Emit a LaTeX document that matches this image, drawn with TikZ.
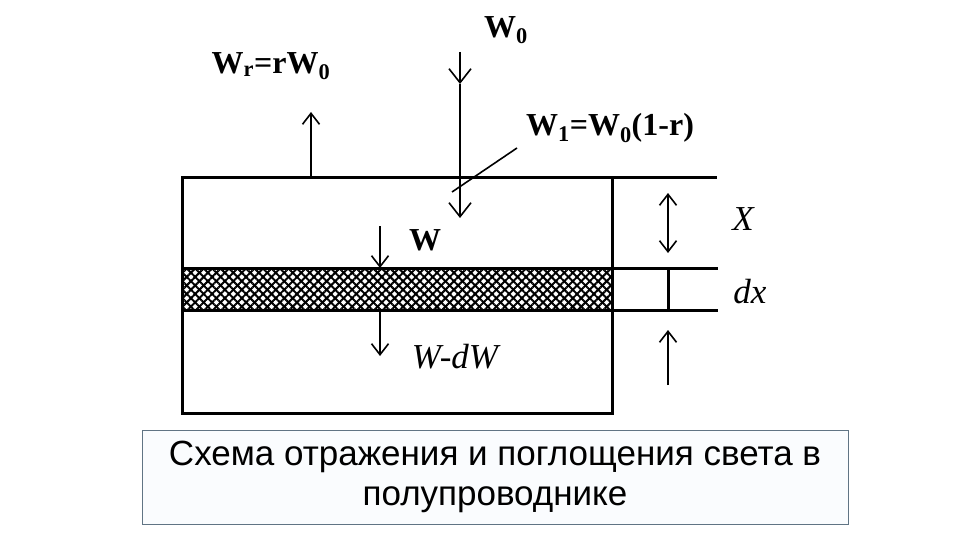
\documentclass[tikz,border=0pt]{standalone}
\usepackage{fontspec}
\setmainfont{Liberation Serif}
\newfontfamily\capfont{Liberation Sans}
\usetikzlibrary{arrows.meta,patterns.meta,positioning}

\definecolor{capborder}{RGB}{96,116,132}
\definecolor{capfill}{RGB}{250,252,254}

\tikzset{
  wall/.style={line width=3pt},
  flux/.style={line width=1.6pt,-{Straight Barb[length=11pt,width=17pt,line width=1.6pt]}},
  bigflux/.style={line width=1.6pt,-{Straight Barb[length=14pt,width=22pt,line width=1.6pt]}},
  fluxboth/.style={line width=1.6pt,{Straight Barb[length=11pt,width=17pt,line width=1.6pt]}-{Straight Barb[length=11pt,width=17pt,line width=1.6pt]}},
  lbl/.style={font=\fontsize{32}{34}\selectfont\bfseries, inner sep=0pt},
  lblit/.style={font=\fontsize{35}{37}\selectfont\itshape, inner sep=0pt}
}

\begin{document}
\begin{tikzpicture}[x=1pt,y=-1pt]
        \useasboundingbox (0,0) rectangle (960,540);

        % absorbing layer dx
        \fill[pattern={Lines[angle=45,distance=6pt,line width=2pt]}] (182,268) rectangle (612,310);
        \fill[pattern={Lines[angle=-45,distance=6pt,line width=2pt]}] (182,268) rectangle (612,310);

        % semiconductor
        \draw[wall] (182,178) rectangle (612,413);
        \draw[wall] (182,178) -- (717,178);
        \draw[wall] (182,268) -- (718,268);
        \draw[wall] (182,310) -- (718,310);
        \draw[wall] (668,268) -- (668,310);

        % labels
        \node[lbl] (w0) at (506,30) {W\textsubscript{0}};
        \node[lbl] (wr) at (271,66) {W\textsubscript{r}=rW\textsubscript{0}};
        \node[lbl] (w1) at (610,128) {W\textsubscript{1}=W\textsubscript{0}(1-r)};
        \node[lbl] (w) at (425,240) {W};
        \node[lblit] (wdw) at (455,357) {W-dW};
        \node[lblit] (xx) at (743,219) {X};
        \node[lblit] (dx) at (750,292) {dx};

        \coordinate (intop) at (460,52);
        \coordinate (inmid) at (460,84);
        \coordinate (inend) at (460,218);
        \coordinate (rfbot) at (311,178);
        \coordinate (rftop) at (311,112);
        \coordinate (lead) at (452,192);
        \coordinate (leadtop) at (517,148);
        \coordinate (wtop) at (380,226);
        \coordinate (wbot) at (380,268);
        \coordinate (wdtop) at (380,310);
        \coordinate (wdbot) at (380,356);
        \coordinate (xtop) at (668,193);
        \coordinate (xbot) at (668,253);
        \coordinate (uptail) at (668,385);
        \coordinate (uphead) at (668,330);

        % fluxes
        \draw[bigflux] (intop) -- (inmid);
        \draw[bigflux] (inmid) -- (inend);
        \draw[flux] (rfbot) -- (rftop);
        \draw[line width=1.6pt] (leadtop) -- (lead);
        \draw[flux] (wtop) -- (wbot);
        \draw[flux] (wdtop) -- (wdbot);
        \draw[fluxboth] (xtop) -- (xbot);
        \draw[flux] (uptail) -- (uphead);

        % caption
        \node[draw=capborder, fill=capfill, line width=0.8pt, minimum width=706pt, minimum height=94pt,
              align=center, font=\capfont\fontsize{35}{40}\selectfont] (cap) at (495,477)
              {Схема отражения и поглощения света в\\полупроводнике};
\end{tikzpicture}
\end{document}
